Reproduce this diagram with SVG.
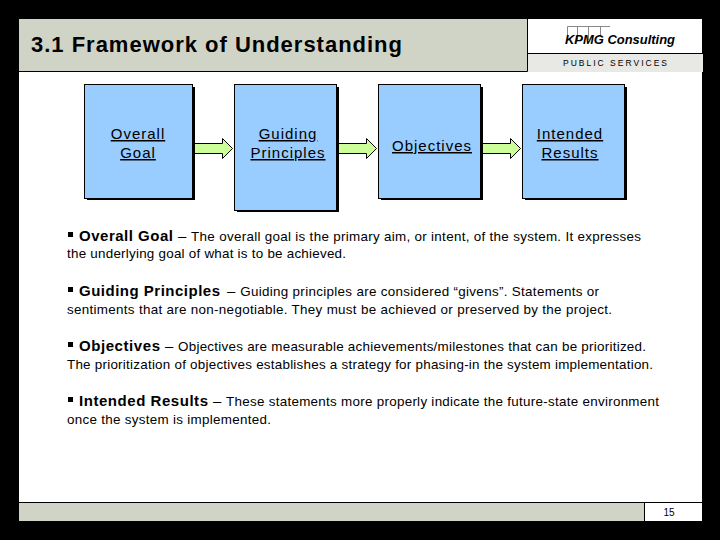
<svg xmlns="http://www.w3.org/2000/svg" width="720" height="540" viewBox="0 0 720 540">
<style>
text{font-family:"Liberation Sans",Arial,sans-serif;fill:#000}
.box{fill:#99ccff;stroke:#000;stroke-width:1}
.shadow{fill:#000}
.lab{font-size:15px;text-anchor:middle;text-decoration:underline;letter-spacing:1px}
.arrow{fill:#ccff99;stroke:#000;stroke-width:1}
.h{font-size:15px;font-weight:bold}
.b{font-size:13.4px}
.bar{fill:#d0d4c6}
.ln{stroke:#000;stroke-width:1;fill:none}
</style>
<rect width="720" height="540" fill="#000"/>
<rect x="19" y="19" width="683" height="502" fill="#fff"/>
<g id="header">
<rect class="bar" x="19" y="19" width="508" height="52"/>
<path class="ln" d="M19 71.500H527.500V19"/>
<rect x="528" y="54" width="175" height="18" fill="#e8e8e4"/>
<path class="ln" d="M528 53.500H703"/>
<text x="31" y="52" font-size="22" font-weight="bold" textLength="371">3.1 Framework of Understanding</text>
<path d="M567.500 40V26.500H610M577.500 26.500V40M588.500 26.500V40M600.500 26.500V36" fill="none" stroke="#888" stroke-width="1"/>
<text x="565" y="43.500" font-size="13.500" font-weight="bold" font-style="italic" textLength="110" lengthAdjust="spacingAndGlyphs">KPMG Consulting</text>
<text x="563" y="66" font-size="8.500" textLength="104">PUBLIC SERVICES</text>
</g>
<g id="connectors">
<path class="arrow" d="M193 143.500H222.500V138.500L232.500 148.500L222.500 158.500V153.500H193Z"/>
<path class="arrow" d="M337 143.500H366.500V138.500L376.500 148.500L366.500 158.500V153.500H337Z"/>
<path class="arrow" d="M481 143.500H510.500V138.500L520.500 148.500L510.500 158.500V153.500H481Z"/>
</g>
<g id="node-overall-goal">
<rect class="shadow" x="87" y="87" width="108" height="113"/>
<rect class="box" x="84.500" y="84.500" width="108" height="114"/>
<text class="lab" x="138" y="139">Overall</text>
<text class="lab" x="138" y="158">Goal</text>
</g>
<g id="node-guiding-principles">
<rect class="shadow" x="237" y="87" width="102" height="125"/>
<rect class="box" x="234.500" y="84.500" width="102" height="126"/>
<text class="lab" x="288" y="139">Guiding</text>
<text class="lab" x="288" y="158">Principles</text>
</g>
<g id="node-objectives">
<rect class="shadow" x="381" y="87" width="102" height="113"/>
<rect class="box" x="378.500" y="84.500" width="102" height="114"/>
<text class="lab" x="432" y="151">Objectives</text>
</g>
<g id="node-intended-results">
<rect class="shadow" x="525" y="87" width="102" height="113"/>
<rect class="box" x="522.500" y="84.500" width="102" height="114"/>
<text class="lab" x="570" y="139">Intended</text>
<text class="lab" x="570" y="158">Results</text>
</g>
<g id="body">
<rect x="68" y="232" width="5" height="5"/>
<text x="79" y="241" class="h" textLength="94">Overall Goal</text>
<text x="178" y="241" class="b" textLength="463"><tspan font-size="15">– </tspan>The overall goal is the primary aim, or intent, of the system.  It expresses</text>
<text x="67" y="258" class="b" textLength="279">the underlying goal of what is to be achieved.</text>
<rect x="68" y="287" width="5" height="5"/>
<text x="79" y="296" class="h" textLength="141">Guiding Principles</text>
<text x="227" y="296" class="b" textLength="372"><tspan font-size="15">– </tspan>Guiding principles are considered “givens”.  Statements or</text>
<text x="67" y="314" class="b" textLength="545">sentiments that are non-negotiable.  They must be achieved or preserved by the project.</text>
<rect x="68" y="342" width="5" height="5"/>
<text x="79" y="351" class="h" textLength="81">Objectives</text>
<text x="165" y="351" class="b" textLength="481"><tspan font-size="15">– </tspan>Objectives are measurable achievements/milestones that can be prioritized.</text>
<text x="67" y="369" class="b" textLength="586">The prioritization of objectives establishes a strategy for phasing-in the system implementation.</text>
<rect x="68" y="397" width="5" height="5"/>
<text x="79" y="406" class="h" textLength="129">Intended Results</text>
<text x="213" y="406" class="b" textLength="446"><tspan font-size="15">– </tspan>These statements more properly indicate the future-state environment</text>
<text x="67" y="424" class="b" textLength="204">once the system is implemented.</text>
</g>
<g id="footer">
<rect class="bar" x="19" y="503" width="625" height="18"/>
<path class="ln" d="M19 502.500H702M644.500 502V521"/>
<text x="669" y="516" font-size="10" text-anchor="middle">15</text>
</g>
</svg>
